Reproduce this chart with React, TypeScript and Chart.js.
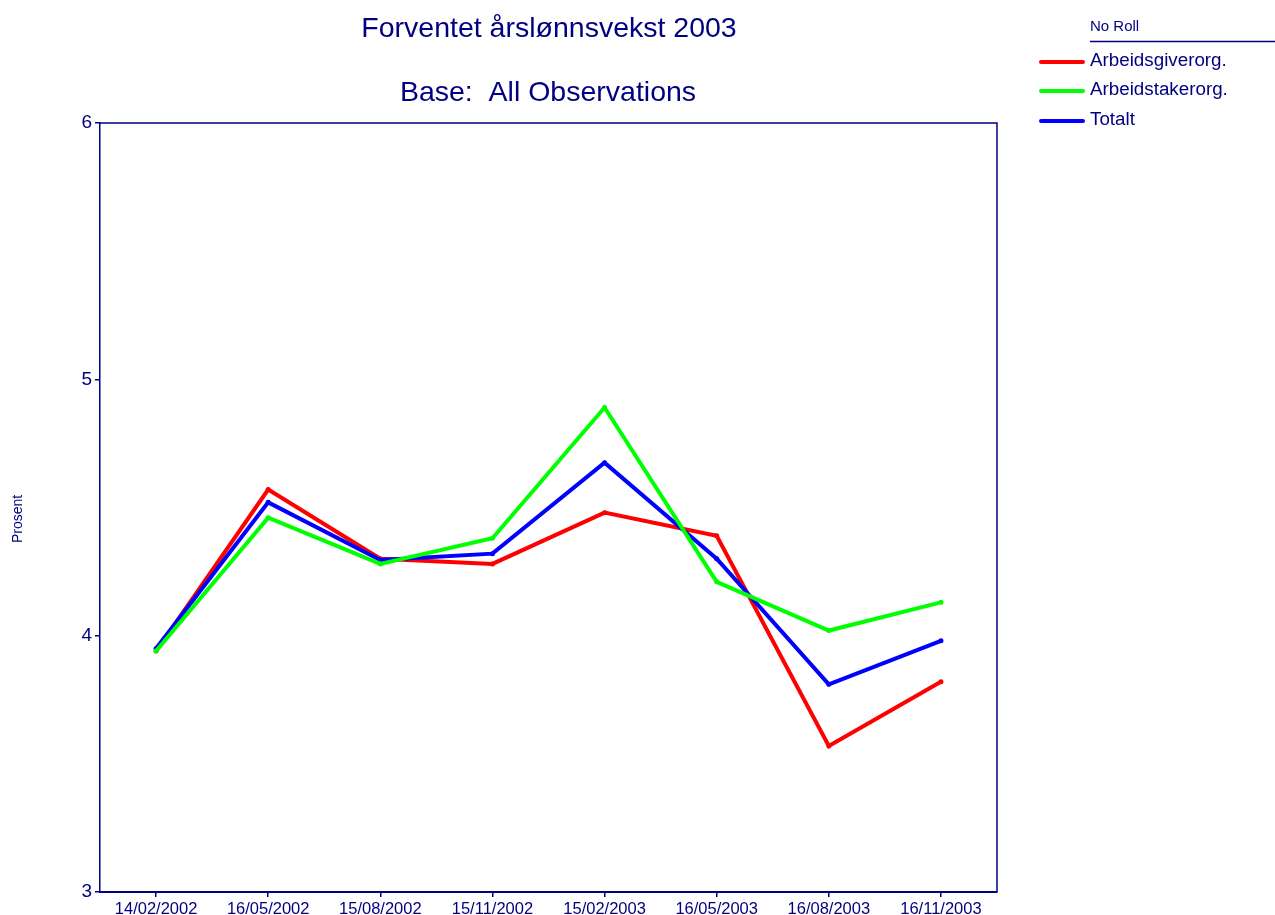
import React, { useEffect, useRef } from "react";
import { Chart, registerables } from "chart.js";

Chart.register(...registerables);

const categories = [
  "14/02/2002", "16/05/2002", "15/08/2002", "15/11/2002",
  "15/02/2003", "16/05/2003", "16/08/2003", "16/11/2003",
];
const arbeidsgiver = [3.94, 4.57, 4.30, 4.28, 4.48, 4.39, 3.57, 3.82];
const arbeidstaker = [3.94, 4.46, 4.28, 4.38, 4.89, 4.21, 4.02, 4.13];
const totalt = [3.95, 4.52, 4.295, 4.32, 4.675, 4.30, 3.81, 3.98];
const seriesNames = ["Arbeidsgiverorg.", "Arbeidstakerorg.", "Totalt"];
const seriesColors = ["#ff0000", "#00ff00", "#0000ff"];
const titleLines = ["Forventet årslønnsvekst 2003", "Base:  All Observations"];
const legendTitle = "No Roll";
const yTitle = "Prosent";

const NAVY = "#000080";
const FONT = "'Liberation Sans', Arial, sans-serif";

export default function App() {
  const ref = useRef<HTMLCanvasElement | null>(null);

  useEffect(() => {
    const canvas = ref.current;
    if (!canvas) return;

    const decor = {
      id: "decor",
      afterDraw(chart: any) {
        const ctx = chart.ctx;
        const a = chart.chartArea;
        ctx.save();
        // frame top/right
        ctx.strokeStyle = NAVY;
        ctx.lineWidth = 1.5;
        ctx.beginPath();
        ctx.moveTo(a.left, a.top);
        ctx.lineTo(a.right, a.top);
        ctx.lineTo(a.right, a.bottom);
        ctx.stroke();
        // titles
        ctx.fillStyle = NAVY;
        ctx.textAlign = "center";
        ctx.textBaseline = "middle";
        ctx.font = `28.5px ${FONT}`;
        ctx.fillText(titleLines[0], 549, 29);
        ctx.fillText(titleLines[1], 548, 93);
        // y title
        ctx.save();
        ctx.translate(18, 519);
        ctx.rotate(-Math.PI / 2);
        ctx.font = `14px ${FONT}`;
        ctx.fillText(yTitle, 0, 0);
        ctx.restore();
        // legend
        ctx.textAlign = "left";
        ctx.font = `15px ${FONT}`;
        ctx.fillText(legendTitle, 1090, 27);
        ctx.lineWidth = 1.5;
        ctx.beginPath();
        ctx.moveTo(1090, 41.5);
        ctx.lineTo(1275, 41.5);
        ctx.stroke();
        ctx.font = `18.8px ${FONT}`;
        const ys = [61, 90, 120];
        for (let i = 0; i < seriesNames.length; i++) {
          ctx.strokeStyle = seriesColors[i];
          ctx.lineWidth = 4;
          ctx.lineCap = "round";
          ctx.beginPath();
          ctx.moveTo(1041, ys[i] + 1);
          ctx.lineTo(1083, ys[i] + 1);
          ctx.stroke();
          ctx.fillStyle = NAVY;
          ctx.fillText(seriesNames[i], 1090, ys[i]);
        }
        ctx.restore();
      },
    };

    const mk = (label: string, data: number[], color: string) => ({
      label,
      data,
      borderColor: color,
      backgroundColor: color,
      borderWidth: 4,
      pointRadius: 2.5,
      pointBorderWidth: 0,
      pointBackgroundColor: color,
      tension: 0,
      fill: false,
    });

    const chart = new Chart(canvas, {
      type: "line",
      data: {
        labels: categories,
        datasets: [
          mk(seriesNames[1], arbeidstaker, seriesColors[1]),
          mk(seriesNames[2], totalt, seriesColors[2]),
          mk(seriesNames[0], arbeidsgiver, seriesColors[0]),
        ],
      },
      options: {
        animation: false,
        responsive: false,
        devicePixelRatio: 1,
        layout: { padding: { top: 123, left: 0, right: 278, bottom: 0 } },
        plugins: {
          legend: { display: false },
          title: { display: false },
          tooltip: { enabled: false },
        },
        scales: {
          x: {
            offset: true,
            grid: {
              display: true,
              drawOnChartArea: false,
              drawTicks: true,
              tickLength: 5,
              color: NAVY,
              lineWidth: 1.5,
              offset: false,
            },
            border: { display: true, color: NAVY, width: 2 },
            ticks: {
              color: NAVY,
              font: { family: FONT, size: 16.5 },
              padding: 3,
              maxRotation: 0,
              autoSkip: false,
            },
            afterFit(scale: any) {
              scale.height = 23;
            },
          },
          y: {
            min: 3,
            max: 6,
            grid: {
              display: true,
              drawOnChartArea: false,
              drawTicks: true,
              tickLength: 5,
              color: NAVY,
              lineWidth: 1.5,
            },
            border: { display: true, color: NAVY, width: 1.5 },
            ticks: {
              stepSize: 1,
              color: NAVY,
              font: { family: FONT, size: 19 },
              padding: 3,
            },
            afterFit(scale: any) {
              scale.width = 100;
            },
          },
        },
      },
      plugins: [decor],
    } as any);

    return () => chart.destroy();
  }, []);

  return (
    <div style={{ position: "fixed", left: 0, top: 0, width: 1275, height: 915, background: "#fff" }}>
      <canvas ref={ref} width={1275} height={915} style={{ width: 1275, height: 915, display: "block" }} />
    </div>
  );
}
